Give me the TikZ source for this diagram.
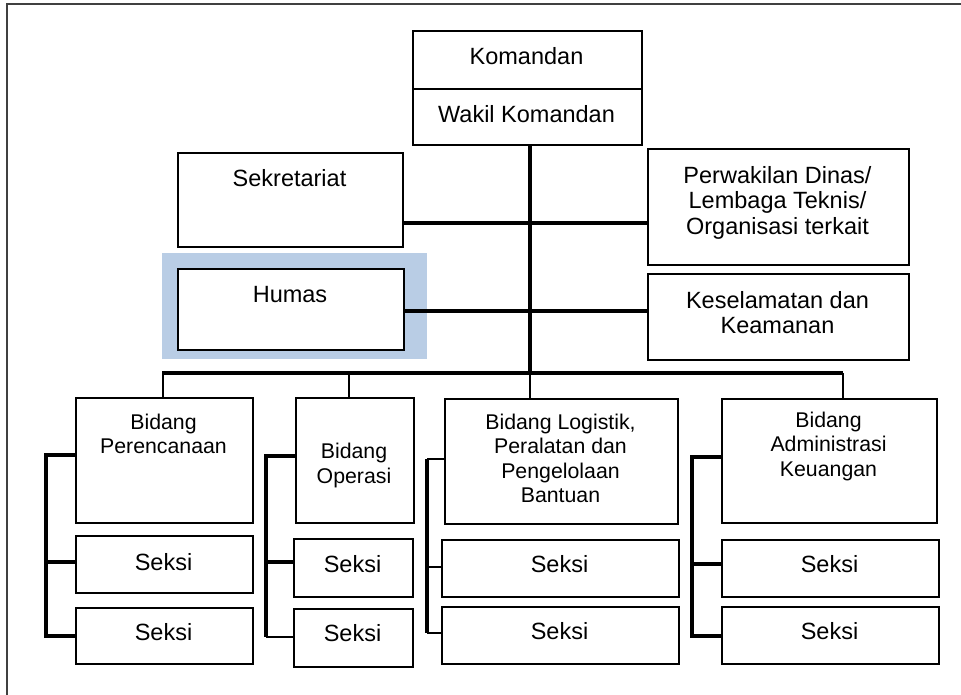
\documentclass[tikz,border=0pt]{standalone}
\usepackage{fontspec}
\setmainfont{Liberation Sans}
\definecolor{hilite}{RGB}{185,205,229}
\begin{document}
\begin{tikzpicture}[x=1pt,y=-1pt,
  box/.style={draw=black, line width=2pt, anchor=north west, inner sep=0pt, fill=white},
  txt/.style={font=\fontsize{23.5}{25.5}\selectfont, align=center, inner sep=0pt},
  btxt/.style={font=\fontsize{21.3}{24.5}\selectfont, align=center, inner sep=0pt},
  thick4/.style={line width=4pt},
  thin2/.style={line width=1.6pt},
  frame/.style={line width=1.5pt, draw=black!75}]
\useasboundingbox (0,0) rectangle (961,695);
\draw[frame] (961,4) -| (7,695);

% highlight behind Humas
\fill[hilite] (162,253) rectangle (427,359);

% top boxes
\node[box, minimum width=229pt, minimum height=58pt] (kom) at (412,30) {};
\node[box, minimum width=229pt, minimum height=56pt] (wak) at (412,88) {};
\node[txt] (komt) at (526.5,56) {Komandan};
\node[txt] (wakt) at (526.5,114) {Wakil Komandan};

\node[box, minimum width=225pt, minimum height=94pt] (sek) at (177,152) {};
\node[txt] (sekt) at (289.5,178) {Sekretariat};
\node[box, minimum width=261pt, minimum height=116pt] (per) at (647,148) {};
\node[txt] (pert) at (777.5,202.5) {Perwakilan Dinas/\\Lembaga Teknis/\\Organisasi terkait};

\node[box, minimum width=226pt, minimum height=81pt] (hum) at (177,268) {};
\node[txt] (humt) at (290,295) {Humas};
\node[box, minimum width=261pt, minimum height=86pt] (kes) at (647,273) {};
\node[txt] (kest) at (777.5,312.5) {Keselamatan dan\\Keamanan};

% trunk and staff lines
\coordinate (bus) at (530,373);
\draw[thick4] (wak.south -| bus) -- (bus);
\draw[thick4] (sek.east |- 0,223) -- (per.west |- 0,223);
\draw[thick4] (hum.east |- 0,311) -- (kes.west |- 0,311);

% bidang boxes
\node[box, minimum width=177pt, minimum height=125pt] (b1) at (75,397) {};
\node[btxt] (b1t) at (163.5,434) {Bidang\\Perencanaan};
\node[box, minimum width=118pt, minimum height=125pt] (b2) at (295,397) {};
\node[btxt] (b2t) at (354,465.5) {Bidang\\Operasi};
\node[box, minimum width=233pt, minimum height=125pt] (b3) at (444,398) {};
\node[btxt] (b3t) at (560.5,458.5) {Bidang Logistik,\\Peralatan dan\\Pengelolaan\\Bantuan};
\node[box, minimum width=215pt, minimum height=124pt] (b4) at (721,398) {};
\node[btxt] (b4t) at (828.5,446) {Bidang\\Administrasi\\Keuangan};

% bus
\coordinate (bl) at (162,373);
\coordinate (br) at (843,373);
\draw[thick4] (bl) -- (br);
\coordinate (d1) at (163,373);
\coordinate (d2) at (349,373);
\coordinate (d4) at (843,373);
\draw[thin2] (d1) -- (d1 |- b1.north);
\draw[thin2] (d2) -- (d2 |- b2.north);
\draw[thin2] (bus) -- (bus |- b3.north);
\draw[thin2] (d4) -- (d4 |- b4.north);

% seksi boxes
\node[box, minimum width=177pt, minimum height=57pt] (s11) at (75,535) {};
\node[txt] at (163.5,562) {Seksi};
\node[box, minimum width=177pt, minimum height=56pt] (s12) at (75,607) {};
\node[txt] at (163.5,632) {Seksi};

\node[box, minimum width=119pt, minimum height=58pt] (s21) at (293,538) {};
\node[txt] at (352.5,564) {Seksi};
\node[box, minimum width=119pt, minimum height=58pt] (s22) at (293,608) {};
\node[txt] at (352.5,633) {Seksi};

\node[box, minimum width=237pt, minimum height=57pt] (s31) at (441,539) {};
\node[txt] at (559.5,564) {Seksi};
\node[box, minimum width=237pt, minimum height=57pt] (s32) at (441,606) {};
\node[txt] at (559.5,631) {Seksi};

\node[box, minimum width=217pt, minimum height=57pt] (s41) at (721,539) {};
\node[txt] at (829.5,564) {Seksi};
\node[box, minimum width=217pt, minimum height=57pt] (s42) at (721,606) {};
\node[txt] at (829.5,631) {Seksi};

% side connectors
\coordinate (v1) at (46,0);
\draw[thick4] (b1.west |- 0,455) -| (v1 |- 0,636) -- (s12.west |- 0,636);
\draw[thick4] (v1 |- 0,562) -- (s11.west |- 0,562);

\coordinate (v2) at (266,0);
\draw[thick4] (b2.west |- 0,456) -| (v2 |- 0,637);
\draw[thick4] (v2 |- 0,562) -- (s21.west |- 0,562);
\draw[thin2] (v2 |- 0,637) -- (s22.west |- 0,637);

\coordinate (v3) at (427,0);
\draw[thick4] (v3 |- 0,459) -- (v3 |- 0,633);
\draw[thin2] (v3 |- 0,459) -- (b3.west |- 0,459);
\draw[thin2] (v3 |- 0,567) -- (s31.west |- 0,567);
\draw[thin2] (v3 |- 0,633) -- (s32.west |- 0,633);

\coordinate (v4) at (692,0);
\draw[thick4] (b4.west |- 0,457) -| (v4 |- 0,636) -- (s42.west |- 0,636);
\draw[thick4] (v4 |- 0,564) -- (s41.west |- 0,564);
\end{tikzpicture}
\end{document}
